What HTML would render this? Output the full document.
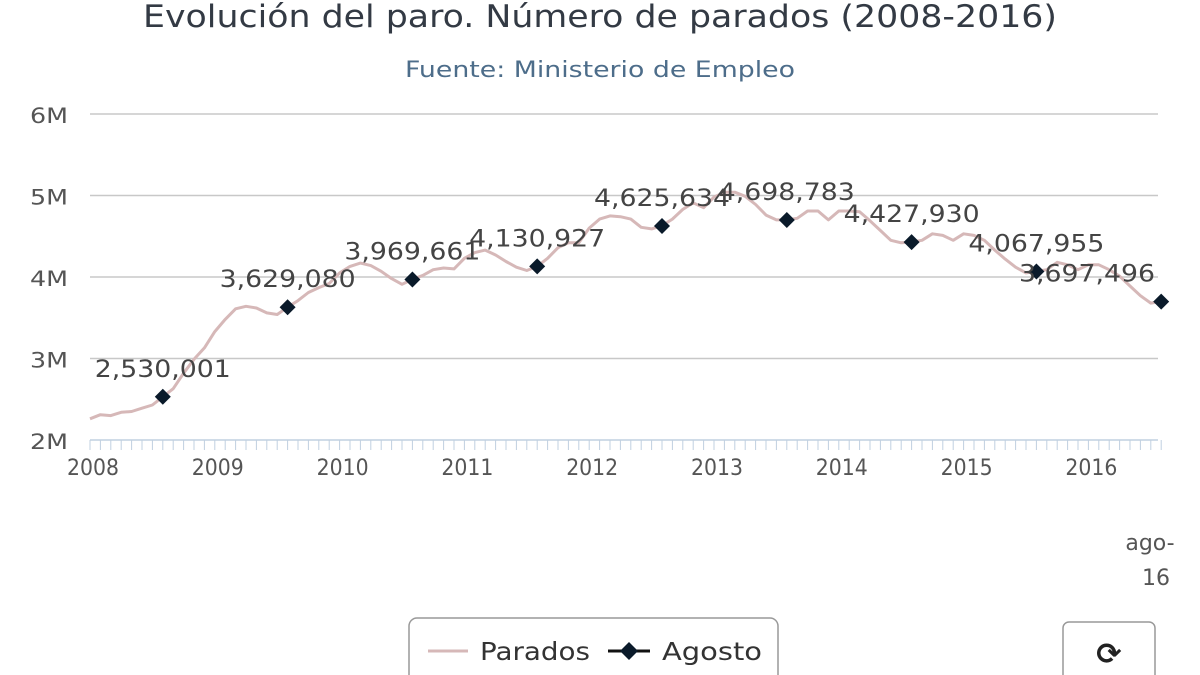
<!DOCTYPE html>
<html><head><meta charset="utf-8"><style>
html,body{margin:0;padding:0;background:#fff;width:1200px;height:675px;overflow:hidden}
svg{display:block;font-family:"DejaVu Sans","Liberation Sans",sans-serif}
</style></head><body>
<svg id="c" width="1200" height="675" viewBox="0 0 1200 675">
<text x="600" y="27" text-anchor="middle" font-size="31" fill="#333a44" textLength="914" lengthAdjust="spacingAndGlyphs">Evolución del paro. Número de parados (2008-2016)</text>
<text x="600" y="77" text-anchor="middle" font-size="22" fill="#4d6d8a" textLength="390" lengthAdjust="spacingAndGlyphs">Fuente: Ministerio de Empleo</text>
<g id="grid"></g><g id="xaxis"></g><g id="series"></g><g id="labels"></g>
<text x="1150" y="550" text-anchor="middle" font-size="22" fill="#555">ago-</text>
<text x="1156" y="585" text-anchor="middle" font-size="22" fill="#555">16</text>
<g>
<rect x="409" y="618" width="369" height="70" rx="8" fill="#fff" stroke="#999" stroke-width="1.5"/>
<g><line x1="428" y1="651" x2="468" y2="651" stroke="#d6b8b8" stroke-width="3"/><text x="480" y="660" font-size="25" fill="#333" textLength="110" lengthAdjust="spacingAndGlyphs">Parados</text></g>
<g><line x1="608" y1="651" x2="650" y2="651" stroke="#111" stroke-width="3"/><path d="M629 642 L638 651 L629 660 L620 651Z" fill="#0a1a2a"/><text x="662" y="660" font-size="25" fill="#333" textLength="100" lengthAdjust="spacingAndGlyphs">Agosto</text></g>
</g>
<g>
<rect x="1063" y="622" width="92" height="70" rx="6" fill="#fff" stroke="#999" stroke-width="1.5"/>
<text x="1109" y="664" text-anchor="middle" font-size="30" font-weight="bold" fill="#222">⟳</text>
</g>
</svg>
<script>
const years=["2008","2009","2010","2011","2012","2013","2014","2015","2016"];
const yTicks=[2,3,4,5,6];
const parados=[
2.26,2.31,2.30,2.34,2.35,2.39,2.43,2.53,2.63,2.82,2.99,3.13,
3.33,3.48,3.61,3.64,3.62,3.56,3.54,3.63,3.71,3.81,3.87,3.92,
4.05,4.13,4.17,4.14,4.07,3.98,3.91,3.97,4.02,4.09,4.11,4.10,
4.23,4.30,4.33,4.27,4.19,4.12,4.08,4.13,4.23,4.36,4.42,4.42,
4.60,4.71,4.75,4.74,4.71,4.61,4.59,4.63,4.71,4.83,4.91,4.85,
4.98,5.04,5.04,4.99,4.89,4.76,4.70,4.70,4.72,4.81,4.81,4.70,
4.81,4.81,4.80,4.69,4.57,4.45,4.42,4.43,4.45,4.53,4.51,4.45,
4.53,4.51,4.45,4.33,4.22,4.12,4.05,4.07,4.09,4.18,4.15,4.09,
4.15,4.15,4.09,4.01,3.89,3.77,3.68,3.70];
const agosto=[2530001,3629080,3969661,4130927,4625634,4698783,4427930,4067955,3697496];
const NS="http://www.w3.org/2000/svg";
const X0=90,PX_YEAR=124.8;
const xm=m=>X0+m/12*PX_YEAR;
const y=v=>440-(v-2)*81.5;
function el(t,a,p){const e=document.createElementNS(NS,t);for(const k in a)e.setAttribute(k,a[k]);document.getElementById(p).appendChild(e);return e;}
yTicks.forEach(v=>{
 const l=el('line',{x1:90,x2:1158,y1:y(v),y2:y(v),stroke:v===2?'#c0d0e0':'#c8c8c8','stroke-width':1.5},'grid');
 
 
 const t=el('text',{x:68,y:y(v)+9,'text-anchor':'end','font-size':21,fill:'#555',textLength:38,lengthAdjust:'spacingAndGlyphs'},'grid');
 t.textContent=v+'M';
 
 
});
for(let m=0;m<=103;m++){el('line',{x1:xm(m),x2:xm(m),y1:440,y2:450,stroke:'#c0d0e0','stroke-width':1},'xaxis');}
years.forEach((yr,i)=>{
 const t=el('text',{x:xm(i*12)+3,y:475,'text-anchor':'middle','font-size':22,fill:'#555',textLength:52,lengthAdjust:'spacingAndGlyphs'},'xaxis');
 t.textContent=yr;
 
 
});
const d=parados.map((v,i)=>(i?'L':'M')+xm(i).toFixed(1)+' '+y(v).toFixed(1)).join(' ');
const p=el('path',{d:d,fill:'none',stroke:'#d6b8b8','stroke-width':3,'stroke-linejoin':'round'},'series');


agosto.forEach((v,i)=>{
 const cx=xm(i*12+7),cy=y(v/1e6);
 const mk=el('path',{d:`M${cx} ${cy-8}L${cx+8} ${cy}L${cx} ${cy+8}L${cx-8} ${cy}Z`,fill:'#0a1a2a'},'series');
 
 
 const lx=Math.min(cx,1155-68);
 const t=el('text',{x:lx,y:cy-20,'text-anchor':'middle','font-size':24,fill:'#444',textLength:136,lengthAdjust:'spacingAndGlyphs'},'labels');
 t.textContent=v.toLocaleString('en-US');
 
 
});
</script>
</body></html>
